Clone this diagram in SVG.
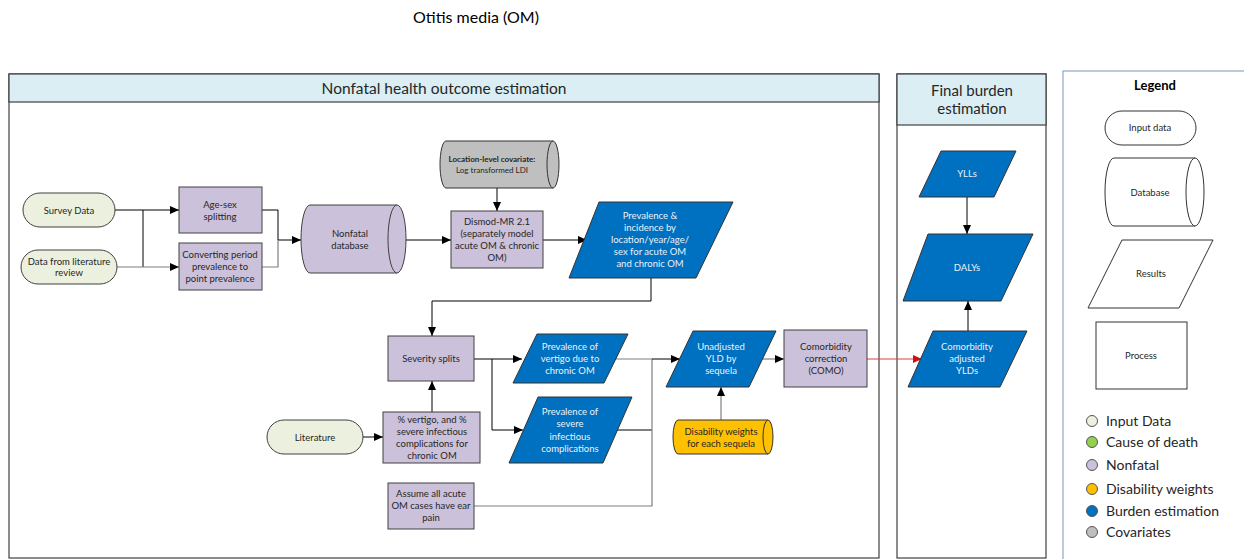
<svg xmlns="http://www.w3.org/2000/svg" width="1244" height="559" viewBox="0 0 1244 559">
<style>
text{font-family:Lato,"Liberation Sans",sans-serif;text-anchor:middle}
.t{font-size:9.5px;fill:#262626}
.w{font-size:9.5px;fill:#EAF2FA}
.h{font-size:15px;fill:#262626}
.lg{font-size:14px;fill:#262626;text-anchor:start}
.panel{fill:#fff;stroke:#404040;stroke-width:1.2}
.hdr{fill:#DAEEF3;stroke:#404040;stroke-width:1.2}
.in{fill:#EBF1DE;stroke:#404040;stroke-width:1}
.nf{fill:#CCC1DA;stroke:#404040;stroke-width:1}
.bl{fill:#0070C0;stroke:#333;stroke-width:1}
.gy{fill:#BFBFBF;stroke:#333;stroke-width:1}
.dw{fill:#FFC000;stroke:#333;stroke-width:1}
.lgs{fill:#fff;stroke:#333;stroke-width:1}
.c{fill:none;stroke:#000;stroke-width:1}
.g{fill:none;stroke:#7F7F7F;stroke-width:1.2}
.r{fill:none;stroke:#E03C3C;stroke-width:1}
</style>
<defs>
<marker id="a" markerWidth="9" markerHeight="8" refX="9" refY="4" orient="auto" markerUnits="userSpaceOnUse"><path d="M0,0L9,4L0,8Z" fill="#000"/></marker>
<marker id="ar" markerWidth="9" markerHeight="8" refX="9" refY="4" orient="auto" markerUnits="userSpaceOnUse"><path d="M0,0L9,4L0,8Z" fill="#D01010"/></marker>
</defs>
<text x="476" y="23" style="font-size:16px;fill:#000">Otitis media (OM)</text>

<g id="panel-nonfatal">
<rect class="panel" x="9" y="74" width="870" height="484"/>
<rect class="hdr" x="9" y="74" width="870" height="28"/>
<text class="h" x="444" y="93.5" style="font-size:15.5px">Nonfatal health outcome estimation</text>
</g>
<g id="panel-final">
<rect class="panel" x="897" y="74" width="149" height="484"/>
<rect class="hdr" x="897" y="74" width="149" height="51"/>
<text class="h" x="972" y="96">Final burden</text>
<text class="h" x="972" y="114">estimation</text>
</g>
<g id="legend">
<rect x="1063" y="71" width="190" height="495" fill="#fff" stroke="#8EA9C8" stroke-width="1.2"/>
<text x="1155" y="90" style="font-size:13px;font-weight:bold;fill:#000">Legend</text>
<rect class="lgs" x="1105" y="111" width="91" height="34" rx="17"/>
<text class="t" x="1150" y="131">Input data</text>
<path class="lgs" d="M1114,158H1195A9,34 0 0 1 1195,226H1114A9,34 0 0 1 1114,158Z"/>
<path class="lgs" d="M1195,158A9,34 0 0 0 1195,226"/>
<text class="t" x="1150" y="196">Database</text>
<path class="lgs" d="M1122,240H1213L1179,308H1088Z"/>
<text class="t" x="1151" y="277">Results</text>
<rect class="lgs" x="1096" y="322" width="91" height="67"/>
<text class="t" x="1141" y="359">Process</text>
<circle cx="1092" cy="421" r="5.5" fill="#EBF1DE" stroke="#555"/>
<text class="lg" x="1106" y="426">Input Data</text>
<circle cx="1092" cy="442" r="5.5" fill="#92D050" stroke="#555"/>
<text class="lg" x="1106" y="447">Cause of death</text>
<circle cx="1092" cy="465" r="5.5" fill="#CCC1DA" stroke="#555"/>
<text class="lg" x="1106" y="470">Nonfatal</text>
<circle cx="1092" cy="489" r="5.5" fill="#FFC000" stroke="#555"/>
<text class="lg" x="1106" y="494">Disability weights</text>
<circle cx="1092" cy="511" r="5.5" fill="#0070C0" stroke="#555"/>
<text class="lg" x="1106" y="516">Burden estimation</text>
<circle cx="1092" cy="532" r="5.5" fill="#BFBFBF" stroke="#555"/>
<text class="lg" x="1106" y="537">Covariates</text>
</g>

<g id="connectors">
<path class="c" d="M115,210H143V267" />
<path class="c" d="M143,210H179" marker-end="url(#a)"/>
<path class="g" d="M117,267H179" marker-end="url(#a)"/>
<path class="c" d="M262,210H278V240H301" marker-end="url(#a)"/>
<path class="g" d="M262,267H278V240"/>
<path class="c" d="M406,240H451" marker-end="url(#a)"/>
<path class="c" d="M497,188V211" marker-end="url(#a)"/>
<path class="c" d="M543,240H587" marker-end="url(#a)"/>
<path class="c" d="M651,278V301H432V336" marker-end="url(#a)"/>
<path class="c" d="M432,412V381" marker-end="url(#a)"/>
<path class="c" d="M363,437H383" marker-end="url(#a)"/>
<path class="c" d="M474,359H522" marker-end="url(#a)"/>
<path class="c" d="M492,359V430H523" marker-end="url(#a)"/>
<path class="g" d="M616,359H652"/>
<path class="c" d="M617,430H652"/>
<path class="g" d="M474,506H652V359"/>
<path class="c" d="M652,359H680" marker-end="url(#a)"/>
<path class="g" d="M763,359H784" marker-end="url(#a)"/>
<path class="g" d="M721,420V387" marker-end="url(#a)"/>
<path class="r" d="M867,359H922" marker-end="url(#ar)"/>
<path class="c" d="M968,331V301" marker-end="url(#a)"/>
<path class="c" d="M967,197V234" marker-end="url(#a)"/>
</g>

<g id="survey-data">
<rect class="in" x="23" y="193" width="92" height="34" rx="17"/>
<text class="t" x="69" y="213.5">Survey Data</text>
</g>
<g id="lit-review">
<rect class="in" x="21" y="250" width="96" height="34" rx="17"/>
<text class="t" x="69" y="265">Data from literature</text>
<text class="t" x="69" y="276">review</text>
</g>
<g id="age-sex">
<rect class="nf" x="179" y="187" width="83" height="46"/>
<text class="t" x="220" y="208">Age-sex</text>
<text class="t" x="220" y="220">splitting</text>
</g>
<g id="converting">
<rect class="nf" x="179" y="243" width="83" height="47"/>
<text class="t" x="220" y="258">Converting period</text>
<text class="t" x="220" y="270">prevalence to</text>
<text class="t" x="220" y="282">point prevalence</text>
</g>
<g id="nonfatal-db">
<path class="nf" d="M310,205H397A9,34 0 0 1 397,273H310A9,34 0 0 1 310,205Z"/>
<path class="nf" d="M397,205A9,34 0 0 0 397,273"/>
<text class="t" x="350" y="237">Nonfatal</text>
<text class="t" x="350" y="249">database</text>
</g>
<g id="covariate">
<path class="gy" d="M446,141H553A6,23.5 0 0 1 553,188H446A6,23.5 0 0 1 446,141Z"/>
<path class="gy" d="M553,141A6,23.5 0 0 0 553,188"/>
<text x="492" y="162" style="font-size:8px;font-weight:bold;fill:#262626">Location-level covariate:</text>
<text x="492" y="173" style="font-size:8px;fill:#262626">Log transformed LDI</text>
</g>
<g id="dismod">
<rect class="nf" x="451" y="211" width="92" height="57"/>
<text class="t" x="497" y="225">Dismod-MR 2.1</text>
<text class="t" x="497" y="237">(separately model</text>
<text class="t" x="497" y="249">acute OM &amp; chronic</text>
<text class="t" x="497" y="261">OM)</text>
</g>
<g id="prevalence-incidence">
<path class="bl" d="M599,202H733L696,278H569Z"/>
<text class="w" x="650" y="219">Prevalence &amp;</text>
<text class="w" x="650" y="231">incidence by</text>
<text class="w" x="650" y="243">location/year/age/</text>
<text class="w" x="650" y="255">sex for acute OM</text>
<text class="w" x="650" y="267">and chronic OM</text>
</g>
<g id="severity-splits">
<rect class="nf" x="388" y="336" width="86" height="45"/>
<text class="t" x="431" y="362">Severity splits</text>
</g>
<g id="pct-vertigo">
<rect class="nf" x="383" y="412" width="97" height="51"/>
<text class="t" x="432" y="423">% vertigo, and %</text>
<text class="t" x="432" y="435">severe infectious</text>
<text class="t" x="432" y="447">complications for</text>
<text class="t" x="432" y="459">chronic OM</text>
</g>
<g id="literature">
<rect class="in" x="267" y="420" width="96" height="34" rx="17"/>
<text class="t" x="315" y="440.5">Literature</text>
</g>
<g id="assume">
<rect class="nf" x="388" y="483" width="86" height="46"/>
<text class="t" x="431" y="497">Assume all acute</text>
<text class="t" x="431" y="509">OM cases have ear</text>
<text class="t" x="431" y="521">pain</text>
</g>
<g id="prev-vertigo">
<path class="bl" d="M537,334H628L604,383H513Z"/>
<text class="w" x="570" y="350">Prevalence of</text>
<text class="w" x="570" y="362">vertigo due to</text>
<text class="w" x="570" y="374">chronic OM</text>
</g>
<g id="prev-severe">
<path class="bl" d="M538,397H632L603,463H509Z"/>
<text class="w" x="570" y="415">Prevalence of</text>
<text class="w" x="570" y="427">severe</text>
<text class="w" x="570" y="440">infectious</text>
<text class="w" x="570" y="452">complications</text>
</g>
<g id="unadjusted-yld">
<path class="bl" d="M693,331H776L749,387H666Z"/>
<text class="w" x="721" y="350">Unadjusted</text>
<text class="w" x="721" y="362">YLD by</text>
<text class="w" x="721" y="374">sequela</text>
</g>
<g id="disability-weights">
<path class="dw" d="M678,420H768A5,17 0 0 1 768,454H678A5,17 0 0 1 678,420Z"/>
<path class="dw" d="M768,420A5,17 0 0 0 768,454"/>
<text class="t" x="721" y="435">Disability weights</text>
<text class="t" x="721" y="447">for each sequela</text>
</g>
<g id="como">
<rect class="nf" x="784" y="330" width="83" height="57"/>
<text class="t" x="826" y="350">Comorbidity</text>
<text class="t" x="826" y="362">correction</text>
<text class="t" x="826" y="374">(COMO)</text>
</g>
<g id="como-adjusted">
<path class="bl" d="M933,331H1027L1000,387H908Z"/>
<text class="w" x="967" y="350">Comorbidity</text>
<text class="w" x="967" y="362">adjusted</text>
<text class="w" x="967" y="374">YLDs</text>
</g>
<g id="ylls">
<path class="bl" d="M941,151H1016L994,197H919Z"/>
<text class="w" x="967" y="177">YLLs</text>
</g>
<g id="dalys">
<path class="bl" d="M928,234H1033L1001,301H903Z"/>
<text class="w" x="967" y="271">DALYs</text>
</g>
</svg>
